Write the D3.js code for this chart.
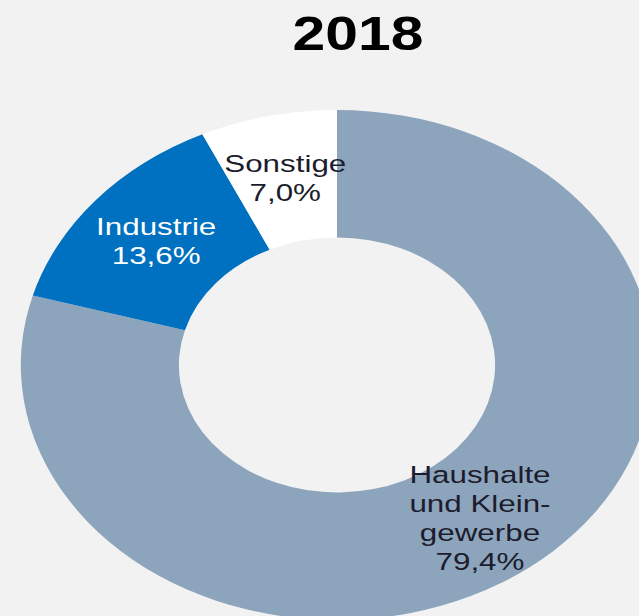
<!DOCTYPE html>
<html><head><meta charset="utf-8">
<script src="https://cdn.jsdelivr.net/npm/d3@7/dist/d3.min.js"></script>
<style>html,body{margin:0;padding:0;background:#f2f2f2;}svg{display:block;}</style>
</head><body>
<svg id="chart" width="639" height="616"></svg>
<script>
const title = "2018";
const categories = ["Haushalte und Kleingewerbe", "Industrie", "Sonstige"];
const labelLines = [["Haushalte", "und Klein-", "gewerbe"], ["Industrie"], ["Sonstige"]];
const values = [79.4, 13.6, 7.0];
const valueLabels = ["79,4%", "13,6%", "7,0%"];
const colors = ["#8da4bd", "#0070c0", "#ffffff"];
const textColors = ["#1c1c2c", "#ffffff", "#1c1c2c"];

const svg = d3.select("#chart");
svg.append("rect").attr("width", 639).attr("height", 616).attr("fill", "#f2f2f2");

const cx = 337, cy = 365, sx = 1.24;
const outerR = 255, innerR = 127.5;

const data = categories.map((c, i) => ({cat: c, value: values[i], i}));
const pie = d3.pie().sort(null).value(d => d.value);
const arc = d3.arc().innerRadius(innerR).outerRadius(outerR);
const arcs = pie(data);

const g = svg.append("g").attr("transform", `translate(${cx},${cy}) scale(${sx},1)`);
g.selectAll("path").data(arcs).join("path")
  .attr("d", arc)
  .attr("fill", d => colors[d.data.i]);

const lh = 29;
const lg = svg.append("g");
arcs.forEach(a => {
  const [x, y] = arc.centroid(a);
  const px = cx + x * sx, py = cy + y;
  const lines = labelLines[a.data.i].concat([valueLabels[a.data.i]]);
  const first = py - (lines.length - 1) * lh / 2 + 8.5;
  lines.forEach((t, k) => {
    lg.append("text")
      .attr("transform", `translate(${px},${first + k * lh}) scale(1.28,1)`)
      .attr("text-anchor", "middle")
      .attr("font-family", "'Liberation Sans', Arial, sans-serif")
      .attr("font-size", 24.5)
      .attr("fill", textColors[a.data.i])
      .text(t);
  });
});

svg.append("text")
  .attr("transform", "translate(358,50) scale(1.2,1)")
  .attr("text-anchor", "middle")
  .attr("font-family", "'Liberation Sans', Arial, sans-serif")
  .attr("font-weight", "bold")
  .attr("font-size", 49)
  .attr("fill", "#000")
  .text(title);
</script>
</body></html>
